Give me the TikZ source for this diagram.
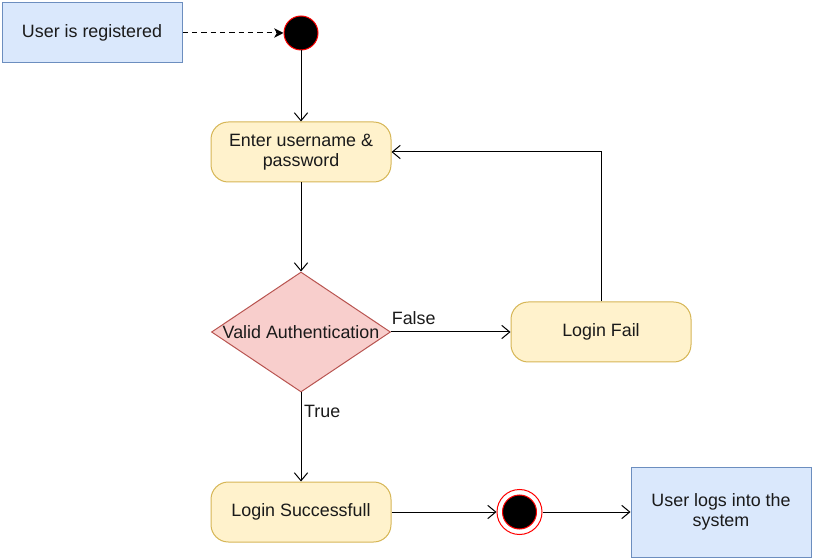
\documentclass[tikz,border=0pt]{standalone}
\usepackage{fontspec}
\setmainfont{Liberation Sans}
\usetikzlibrary{shapes.geometric}
\usetikzlibrary{arrows.meta}
\definecolor{blueFill}{HTML}{DAE8FC}
\definecolor{blueLine}{HTML}{6C8EBF}
\definecolor{yellowFill}{HTML}{FFF2CC}
\definecolor{yellowLine}{HTML}{D6B656}
\definecolor{redFill}{HTML}{F8CECC}
\definecolor{redLine}{HTML}{B85450}
\definecolor{inkText}{HTML}{1A1A1A}

\tikzset{
  infobox/.style={draw=blueLine, fill=blueFill, line width=0.75pt,
    minimum width=135pt, minimum height=45pt, align=center, inner sep=0pt},
  actbox/.style={draw=yellowLine, fill=yellowFill, line width=0.75pt,
    rounded corners=13pt, minimum width=135pt, minimum height=45pt,
    align=center, inner sep=0pt},
  decision/.style={diamond, draw=redLine, fill=redFill, line width=0.75pt,
    minimum width=134.25pt, minimum height=90pt, inner sep=0pt},
  startdot/.style={circle, draw=red, fill=black, line width=0.75pt,
    minimum size=25.5pt, inner sep=0pt},
  enddot/.style={circle, draw=red, fill=white, line width=0.75pt,
    minimum size=33.75pt, inner sep=0pt,
    path picture={\filldraw[draw=red, fill=black, line width=0.75pt]
      (path picture bounding box.center) circle (12.75pt);}},
  flow/.style={line width=0.75pt, -{Straight Barb[length=6pt,width=10pt]}},
  dashflow/.style={line width=0.75pt, dash pattern=on 4pt off 3pt,
    -{Stealth[length=7pt,width=7pt,inset=2pt]}},
}

\begin{document}
\begin{tikzpicture}[x=0.75pt, y=-0.75pt, font=\fontsize{13.4}{15}\selectfont, text=inkText]

\useasboundingbox (0,0) rectangle (814,559);

%---------------------------------------
% States
%---------------------------------------
\node[infobox] (registered) at (92,33) {User is registered};
\node[startdot] (start) at (301,33) {};

\node[actbox] (enter) at (301,152) {Enter username \&\\ password};

\node[decision, label=center:{Valid Authentication}] (valid) at (301,332) {};
\node[actbox] (fail) at (601,332) {Login Fail};

\node[actbox] (success) at (301,512) {Login Successfull};
\node[enddot] (finish) at (519.5,512) {};
\node[infobox, minimum height=67.5pt] (loggedin) at (721,512) {User logs into the\\ system};

%---------------------------------------
% Transitions
%---------------------------------------
\draw[dashflow] (registered.east) -- (start.west);
\draw[flow] (start.south) -- (enter.north);
\draw[flow] (enter.south) -- (valid.north);

\draw[flow] (valid.east) -- node[pos=0.19, above, inner sep=5pt] {False} (fail.west);
\draw[flow] (fail.north) |- (enter.east);

\draw[flow] (valid.south) -- node[pos=0.21, right, inner sep=2pt] {True} (success.north);
\draw[flow] (success.east) -- (finish.west);
\draw[flow] (finish.east) -- (loggedin.west);

\end{tikzpicture}
\end{document}
